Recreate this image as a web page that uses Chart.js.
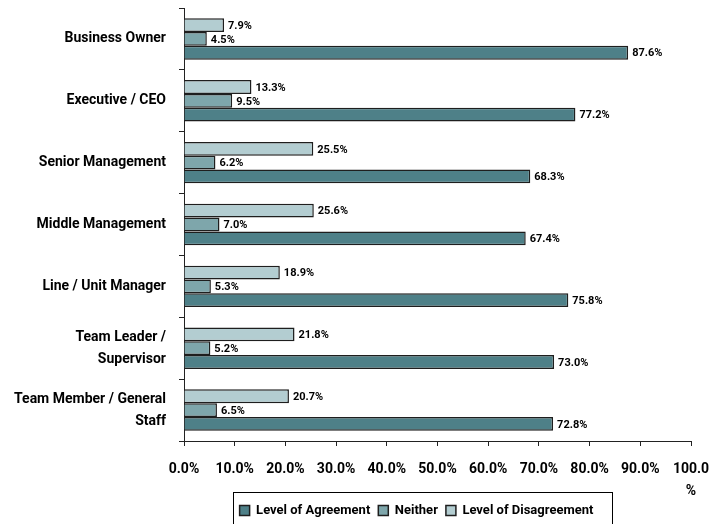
<!DOCTYPE html>
<html>
<head>
<meta charset="utf-8">
<script src="https://cdn.jsdelivr.net/npm/chart.js@4/dist/chart.umd.min.js"></script>
<style>
    html, body { margin: 0; padding: 0; background: #fff; }
    #wrap { width: 712px; height: 524px; }
</style>
</head>
<body>
<div id="wrap"><canvas id="chart" width="712" height="524"></canvas></div>
<script>
const categories = [
    "Business Owner",
    "Executive / CEO",
    "Senior Management",
    "Middle Management",
    "Line / Unit Manager",
    ["Team Leader /", "Supervisor"],
    ["Team Member / General", "Staff"]
];
const agreement = [87.6, 77.2, 68.3, 67.4, 75.8, 73.0, 72.8];
const neither = [4.5, 9.5, 6.2, 7.0, 5.3, 5.2, 6.5];
const disagreement = [7.9, 13.3, 25.5, 25.6, 18.9, 21.8, 20.7];
const xTicks = ["0.0%", "10.0%", "20.0%", "30.0%", "40.0%", "50.0%", "60.0%", "70.0%", "80.0%", "90.0%", ["100.0", "%"]];

const font = "Roboto, 'Liberation Sans', Arial, sans-serif";

// value labels to the right of every bar
const barLabels = {
    id: "barLabels",
    afterDatasetsDraw(chart) {
        const ctx = chart.ctx;
        ctx.save();
        ctx.font = "bold 11px " + font;
        ctx.fillStyle = "#000";
        ctx.textAlign = "left";
        ctx.textBaseline = "middle";
        chart.data.datasets.forEach((ds, i) => {
            chart.getDatasetMeta(i).data.forEach((bar, j) => {
                ctx.fillText(ds.data[j].toFixed(1) + "%", bar.x + 4, bar.y + 1);
            });
        });
        ctx.restore();
    }
};

// nudge the legend a little left of the plot centre, like the original
const legendShift = {
    id: "legendShift",
    afterLayout(chart) {
        const lg = chart.legend;
        const dx = -21, dy = -3;
        lg.left += dx;
        lg.right += dx;
        lg.top += dy;
        lg.bottom += dy;
        lg.legendHitBoxes.forEach(b => { b.left += dx; b.top += dy; });
    }
};

// frame round the legend
const legendFrame = {
    id: "legendFrame",
    afterDraw(chart) {
        const boxes = chart.legend.legendHitBoxes;
        if (!boxes || !boxes.length) return;
        const first = boxes[0];
        const last = boxes[boxes.length - 1];
        const ctx = chart.ctx;
        ctx.save();
        ctx.strokeStyle = "#000";
        ctx.lineWidth = 1;
        const left = Math.round(first.left - 7) + 0.5;
        const right = Math.round(last.left + last.width + 19) + 0.5;
        const top = Math.round(first.top - 9) + 0.5;
        ctx.strokeRect(left, top, right - left, 60);
        ctx.restore();
    }
};

function noPadding(scale) {
    scale.paddingTop = 0;
    scale.paddingBottom = 0;
    scale.paddingLeft = 0;
    scale.paddingRight = 0;
}

new Chart(document.getElementById("chart"), {
    type: "bar",
    data: {
        labels: categories,
        datasets: [
            {
                label: "Level of Disagreement",
                data: disagreement,
                backgroundColor: "#b3cdd1",
                borderColor: "#1e1e1e",
                borderWidth: 1.5
            },
            {
                label: "Neither",
                data: neither,
                backgroundColor: "#7ea6ab",
                borderColor: "#1e1e1e",
                borderWidth: 1.5
            },
            {
                label: "Level of Agreement",
                data: agreement,
                backgroundColor: "#4e8088",
                borderColor: "#1e1e1e",
                borderWidth: 1.5
            }
        ]
    },
    options: {
        indexAxis: "y",
        responsive: false,
        animation: false,
        datasets: {
            bar: { categoryPercentage: 0.67, barPercentage: 1.0 }
        },
        layout: {
            autoPadding: false,
            padding: { left: 0, right: 21, top: 8, bottom: -6 }
        },
        scales: {
            x: {
                min: 0,
                max: 100,
                afterBuildTicks(scale) {
                    scale.ticks = xTicks.map((t, i) => ({ value: i * 10 }));
                },
                afterFit(scale) { scale.height = 58; noPadding(scale); },
                grid: {
                    drawOnChartArea: false,
                    drawTicks: true,
                    tickLength: 5,
                    color: "#222"
                },
                border: { color: "#222", width: 1 },
                ticks: {
                    callback: (v, i) => xTicks[i],
                    color: "#000",
                    padding: 13,
                    maxRotation: 0,
                    autoSkip: false,
                    font: { family: font, size: 14, weight: "bold", lineHeight: 1.57 }
                }
            },
            y: {
                afterFit(scale) { scale.width = 184; noPadding(scale); },
                grid: {
                    drawOnChartArea: false,
                    drawTicks: true,
                    tickLength: 5,
                    offset: true,
                    color: "#222"
                },
                border: { color: "#222", width: 1 },
                ticks: {
                    color: "#000",
                    padding: 13,
                    autoSkip: false,
                    font: { family: font, size: 14, weight: "bold", lineHeight: 1.57 }
                }
            }
        },
        plugins: {
            legend: {
                position: "bottom",
                fullSize: false,
                reverse: true,
                labels: {
                    color: "#000",
                    boxWidth: 10,
                    boxHeight: 10,
                    padding: 8,
                    font: { family: font, size: 13, weight: "bold" }
                }
            },
            tooltip: { enabled: false }
        }
    },
    plugins: [barLabels, legendShift, legendFrame]
});
</script>
</body>
</html>
